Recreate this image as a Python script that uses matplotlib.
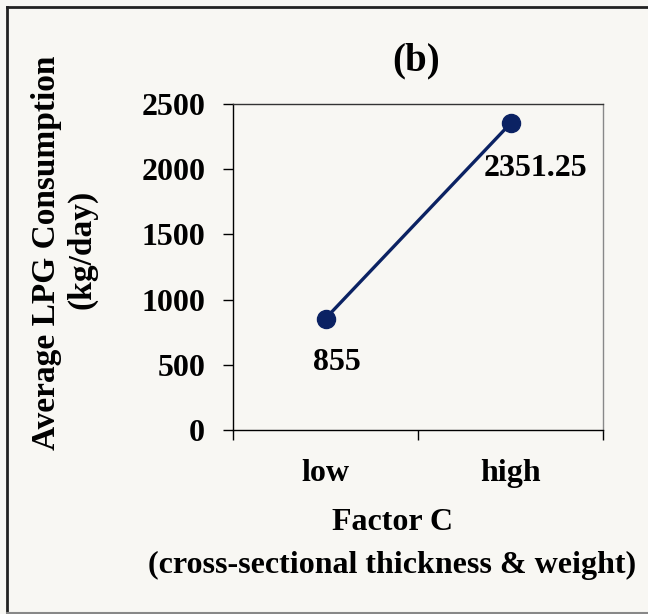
import matplotlib
matplotlib.use('Agg')
import matplotlib.pyplot as plt
from matplotlib.lines import Line2D

# data
levels = ['low', 'high']
consumption = [855, 2351.25]
y_ticks = [0, 500, 1000, 1500, 2000, 2500]

plt.rcParams['font.family'] = ['Liberation Serif', 'DejaVu Serif']
plt.rcParams['font.weight'] = 'bold'

bg = '#f8f7f3'
navy = '#0b2263'

fig = plt.figure(figsize=(6.48, 6.14), dpi=100, facecolor=bg)
ax = fig.add_axes([233 / 648, 1 - 430 / 614, 370 / 648, 326 / 614])
ax.set_facecolor(bg)

xpos = [i + 0.5 for i in range(len(levels))]
ax.plot(xpos, consumption, color=navy, linewidth=2.4, marker='o', markersize=13)

# data labels
ax.annotate('855', (xpos[0], consumption[0]), xytext=(11, -44), textcoords='offset pixels',
            ha='center', va='center', fontsize=23, fontweight='bold')
ax.annotate('2351.25', (xpos[1], consumption[1]), xytext=(25, -45), textcoords='offset pixels',
            ha='center', va='center', fontsize=23, fontweight='bold')

ax.set_xlim(0, 2)
ax.set_ylim(0, 2500)
ax.set_yticks(y_ticks)
ax.set_yticklabels([str(t) for t in y_ticks], fontsize=23, fontweight='bold')
ax.set_xticks([0, 1, 2])
ax.set_xticklabels([])
ax.set_xticks(xpos, minor=True)
ax.set_xticklabels(levels, minor=True, fontsize=23, fontweight='bold')
ax.tick_params(axis='x', which='minor', length=0, pad=21)
ax.tick_params(axis='x', which='major', length=7, width=1, direction='out')
ax.tick_params(axis='y', length=7, width=1, direction='out', pad=13)

ax.spines['left'].set_color('black')
ax.spines['bottom'].set_color('black')
ax.spines['top'].set_color('#333333')
ax.spines['right'].set_color('#888888')
for s in ax.spines.values():
    s.set_linewidth(1)

# titles and labels
fig.text(416 / 648, 1 - 61 / 614, '(b)', ha='center', va='center', fontsize=28, fontweight='bold')
fig.text(392 / 648, 1 - 522 / 614, 'Factor C', ha='center', va='center', fontsize=23, fontweight='bold')
fig.text(392 / 648, 1 - 565 / 614, '(cross-sectional thickness & weight)', ha='center', va='center',
         fontsize=23, fontweight='bold')
fig.text(47 / 648, 1 - 253 / 614, 'Average LPG Consumption', ha='center', va='center', rotation=90,
         fontsize=24, fontweight='bold')
fig.text(82 / 648, 1 - 249 / 614, '(kg/day)', ha='center', va='center', rotation=90,
         fontsize=24, fontweight='bold')

# figure frame
fig.add_artist(Line2D([7 / 648, 7 / 648], [2 / 614, 1 - 7 / 614], color='#222222', linewidth=2,
                      transform=fig.transFigure))
fig.add_artist(Line2D([7 / 648, 1], [1 - 7 / 614, 1 - 7 / 614], color='#222222', linewidth=2,
                      transform=fig.transFigure))
fig.add_artist(Line2D([7 / 648, 1], [1.5 / 614, 1.5 / 614], color='#888888', linewidth=1.5,
                      transform=fig.transFigure))

fig.savefig('out.png', dpi=100, facecolor=bg)
